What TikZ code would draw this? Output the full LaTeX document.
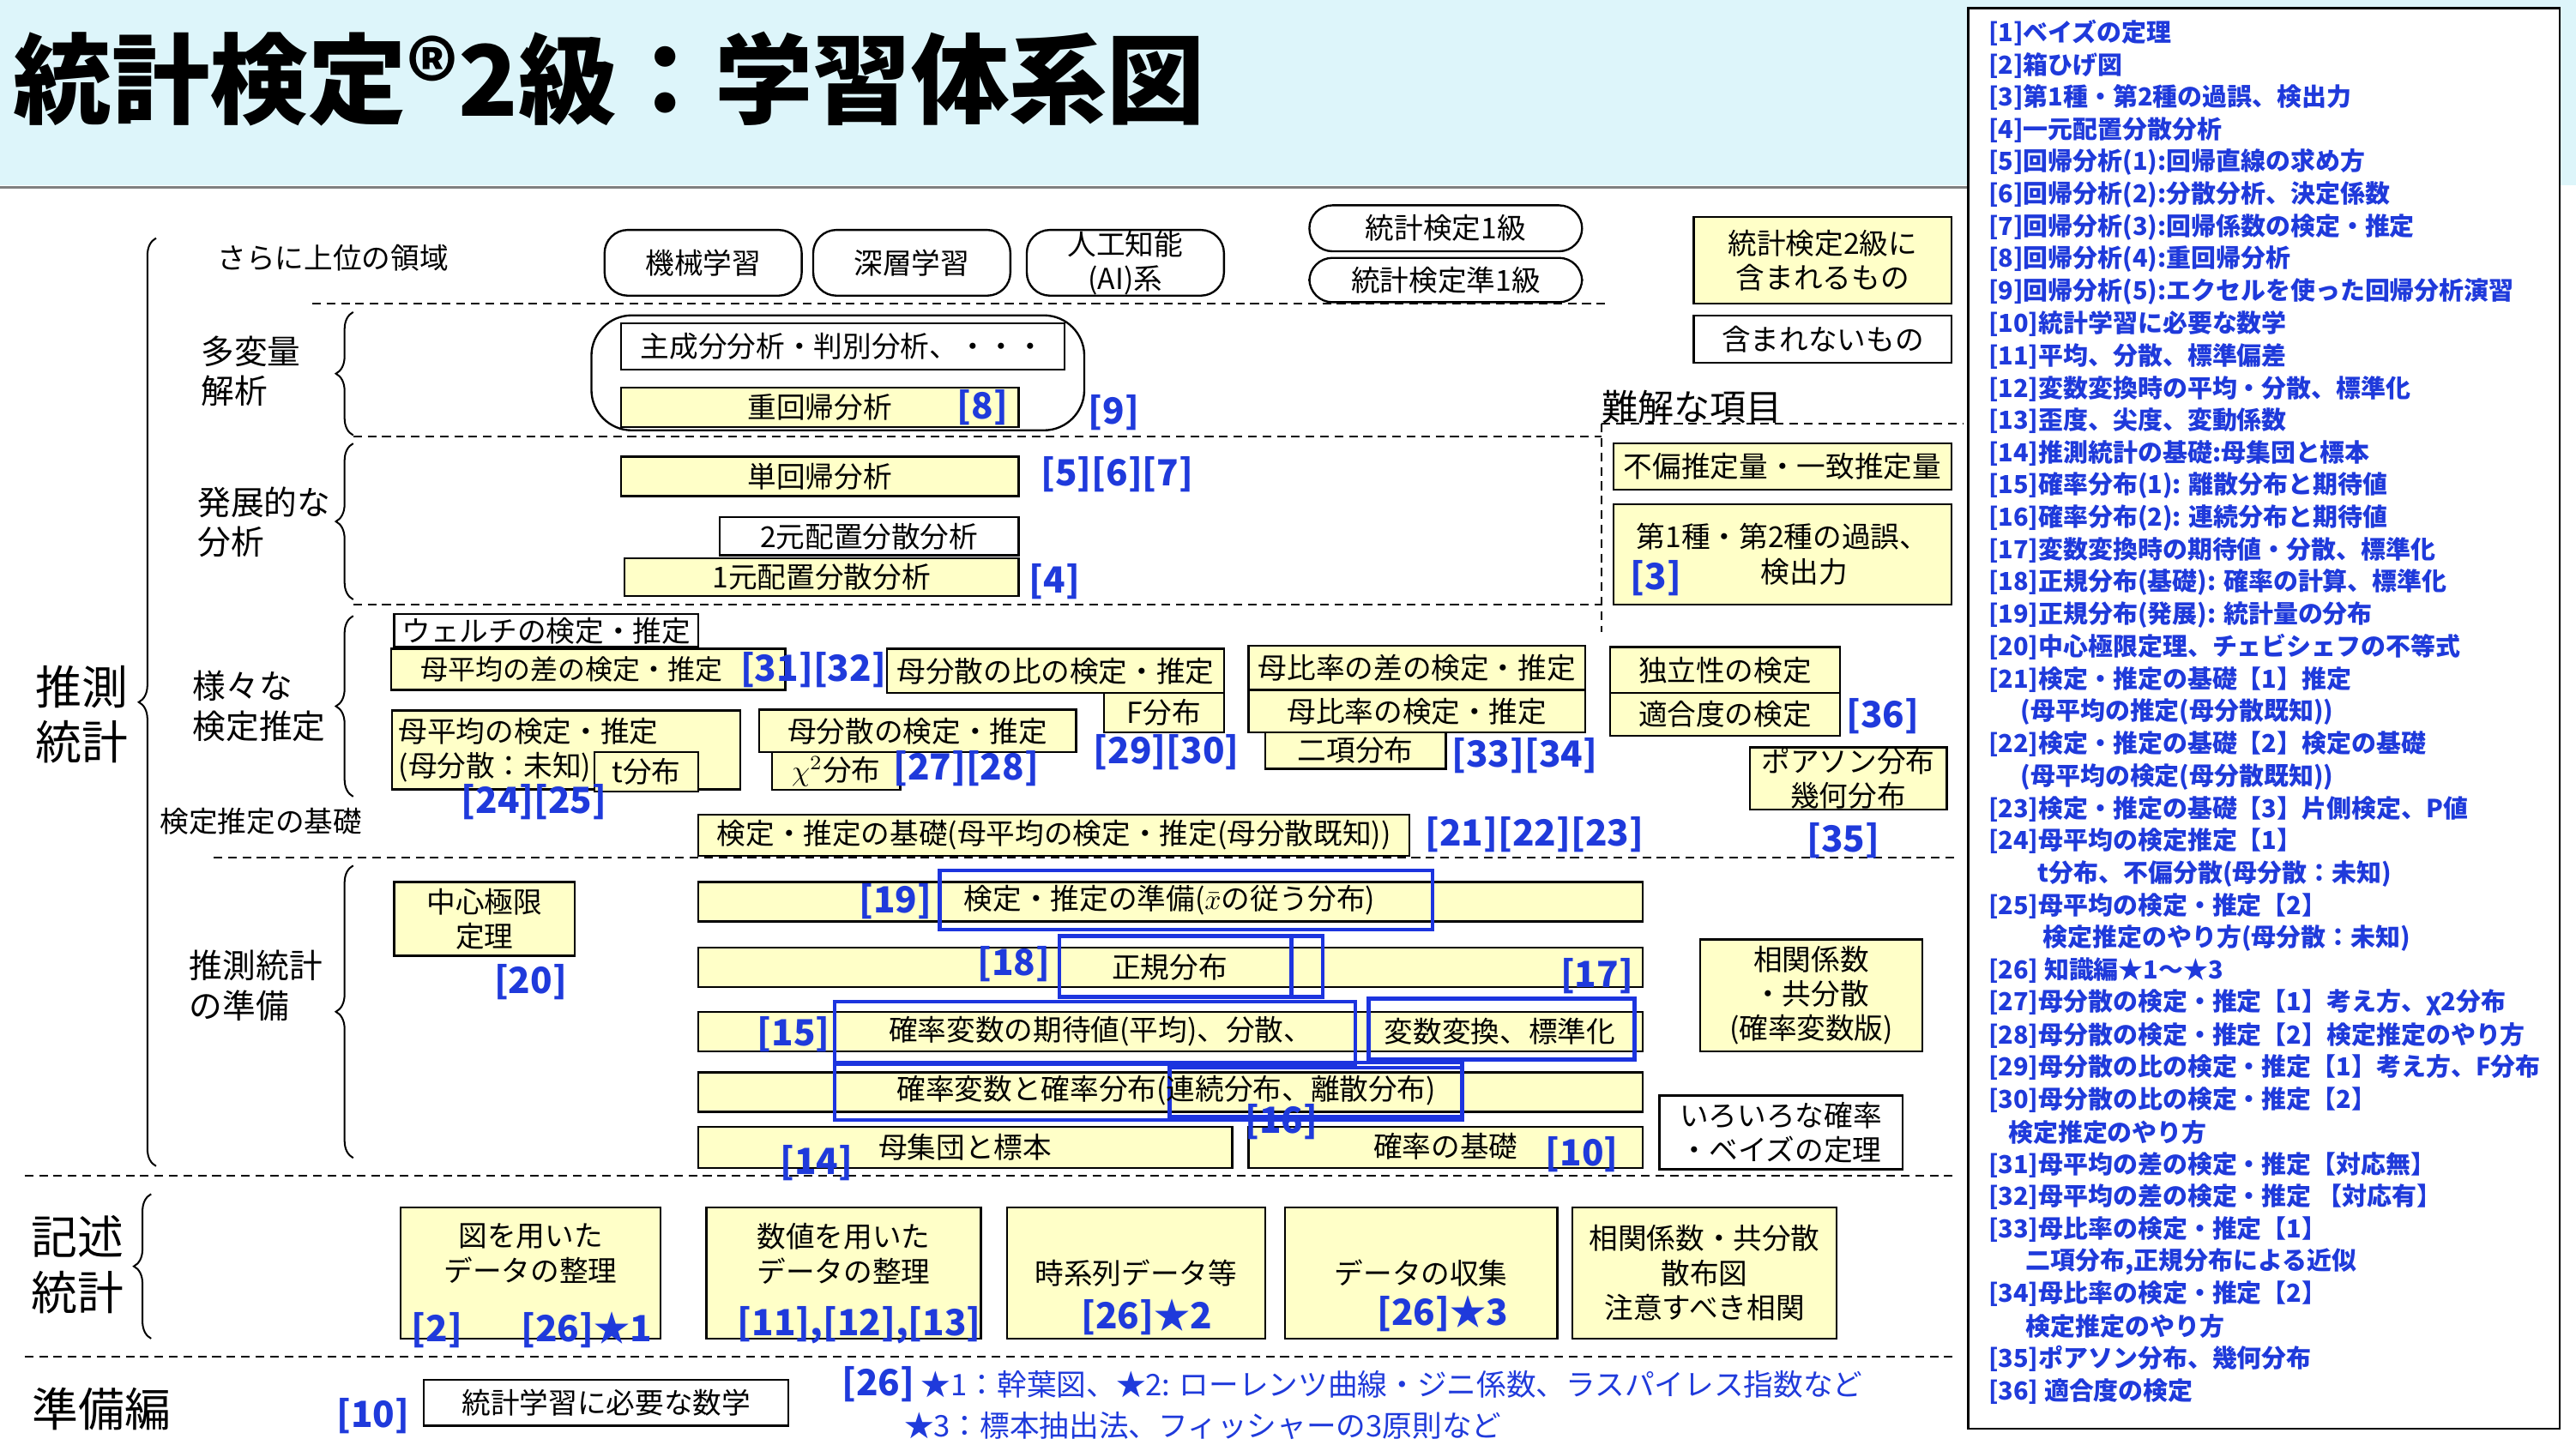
\documentclass[tikz,border=0pt]{standalone}
\usepackage{fontspec}
\setmainfont{Noto Sans CJK JP}
\usetikzlibrary{decorations.pathreplacing}
\definecolor{yel}{HTML}{FFFFC8}
\definecolor{ref}{HTML}{1F3ADB}
\definecolor{bnr}{HTML}{DDF5FA}
\newcommand\fs[1]{\fontsize{#1pt}{\dimexpr #1pt*6/5\relax}\selectfont}
\newcommand\bx[7]{\node[#1,minimum width={(#5-#3)*0.02cm},minimum height={(#6-#4)*0.02cm}] (#2) at ({(#3+#5)/2},{(#4+#6)/2}) {#7};}
\begin{document}
\begin{tikzpicture}[x=0.02cm,y=-0.02cm,
  base/.style={draw=black,line width=0.7pt,inner sep=0pt,align=center,font=\fs{10}},
  yb/.style={base,fill=yel},
  wb/.style={base,fill=white},
  rb/.style={base,fill=white,rounded corners=8pt},
  rf/.style={text=ref,font=\bfseries\fs{12.5},inner sep=0pt},
  lab/.style={font=\fs{11.5},align=left,inner sep=0pt,anchor=west},
  big/.style={font=\fs{16},align=center,inner sep=0pt},
  dl/.style={dashed,line width=0.6pt,dash pattern=on 3pt off 2pt},
  br/.style={decorate,decoration={brace,amplitude=6pt},line width=0.6pt},
  bb/.style={draw=ref!90!blue,line width=1.3pt}]
\useasboundingbox (0,0) rectangle (1568,883);
\fill[bnr] (0,0) rectangle (1568,113);
\draw[gray,line width=1pt] (0,114)--(1198,114);
\node[anchor=west,font=\bfseries\fs{34},inner sep=0pt] (title) at (8,48) {統計検定®2級：学習体系図};
% legend
\node[draw,line width=0.7pt,fill=white,minimum width={360*0.02cm},minimum height={865*0.02cm},inner sep=0] (leg) at (1378,437.5) {};
\foreach \t [count=\i from 0] in {
[1]ベイズの定理,[2]箱ひげ図,[3]第1種・第2種の過誤、検出力,[4]一元配置分散分析,
[5]回帰分析(1):回帰直線の求め方,[6]回帰分析(2):分散分析、決定係数,[7]回帰分析(3):回帰係数の検定・推定,
[8]回帰分析(4):重回帰分析,[9]回帰分析(5):エクセルを使った回帰分析演習,[10]統計学習に必要な数学,
[11]平均、分散、標準偏差,[12]変数変換時の平均・分散、標準化,[13]歪度、尖度、変動係数,
[14]推測統計の基礎:母集団と標本,[15]確率分布(1): 離散分布と期待値,[16]確率分布(2): 連続分布と期待値,
[17]変数変換時の期待値・分散、標準化,[18]正規分布(基礎): 確率の計算、標準化,[19]正規分布(発展): 統計量の分布,
[20]中心極限定理、チェビシェフの不等式,[21]検定・推定の基礎【1】推定,\hspace{1.3em}(母平均の推定(母分散既知)),
[22]検定・推定の基礎【2】検定の基礎,\hspace{1.3em}(母平均の検定(母分散既知)),[23]検定・推定の基礎【3】片側検定、P値,
[24]母平均の検定推定【1】,\hspace{2em}t分布、不偏分散(母分散：未知),[25]母平均の検定・推定【2】,
\hspace{2.2em}検定推定のやり方(母分散：未知),[26] 知識編★1～★3,[27]母分散の検定・推定【1】考え方、χ2分布,
[28]母分散の検定・推定【2】検定推定のやり方,[29]母分散の比の検定・推定【1】考え方、F分布,[30]母分散の比の検定・推定【2】,
\hspace{0.8em}検定推定のやり方,[31]母平均の差の検定・推定【対応無】,[32]母平均の差の検定・推定 【対応有】,
[33]母比率の検定・推定【1】,\hspace{1.5em}二項分布{,}正規分布による近似,[34]母比率の検定・推定【2】,
\hspace{1.5em}検定推定のやり方,[35]ポアソン分布、幾何分布,[36] 適合度の検定}
{\node[anchor=west,inner sep=0pt,text=ref,font=\bfseries\fs{8.6}] (l\i) at (1210,{20+\i*19.69}) {\t};}
% braces & section labels
\draw[br] (95,710)--(95,145);
\node[big] (suisoku) at (50,435) {推測\\統計};
\draw[br] (215,265)--(215,190);
\draw[br] (215,365)--(215,270);
\draw[br] (215,485)--(215,375);
\draw[br] (215,705)--(215,527);
\draw[br] (92,815)--(92,727);
\node[big] (kijutsu) at (47,770) {記述\\統計};
\node[big] (junbi) at (62,858) {準備編};
\node[lab] (sarani) at (132,157) {\fs{10}さらに上位の領域};
\node[lab] (tahen) at (122,226) {多変量\\解析};
\node[lab] (hatten) at (120,318) {発展的な\\分析};
\node[lab] (samazama) at (117,430) {様々な\\検定推定};
\node[lab,font=\fs{10}] (kiso) at (97,500) {検定推定の基礎};
\node[lab] (prep) at (115,600) {推測統計\\の準備};
% dashed lines
\draw[dl] (190,185)--(980,185);
\draw[dl] (215,266)--(975,266);
\draw[dl] (215,368)--(975,368);
\draw[dl] (130,522)--(1190,522);
\draw[dl] (15,716)--(1190,716);
\draw[dl] (15,826)--(1190,826);
\draw[dl] (975,258)--(975,385);
\draw[dl] (975,258)--(1195,258);
% upper
\bx{rb}{ml}{368}{140}{488}{180}{機械学習}
\bx{rb}{dl}{495}{140}{615}{180}{深層学習}
\bx{rb}{ai}{625}{140}{745}{180}{人工知能\\(AI)系}
\bx{rb}{q1}{797}{125}{963}{153}{統計検定1級}
\bx{rb}{qj}{797}{157}{963}{184}{統計検定準1級}
\bx{yb}{inc}{1031}{132}{1188}{185}{統計検定2級に\\含まれるもの}
\bx{wb}{exc}{1031}{192}{1188}{221}{含まれないもの}
\node[inner sep=0,font=\fs{12.5}] (nankai) at (1030,248) {難解な項目};
% multivariate
\draw[line width=0.7pt,rounded corners=14pt] (360,192) rectangle (660,262);
\bx{wb}{pca}{378}{197}{648}{225}{主成分分析・判別分析、・・・}
\bx{yb}{mra}{378}{236}{620}{260}{重回帰分析}
\node[rf] (r8) at (598,248) {[8]};
\node[rf] (r9) at (678,251) {[9]};
\bx{yb}{sra}{378}{278}{620}{302}{単回帰分析}
\node[rf] (r567) at (680,289) {[5][6][7]};
\bx{wb}{anova2}{438}{315}{620}{338}{2元配置分散分析}
\bx{yb}{anova1}{380}{340}{620}{363}{1元配置分散分析}
\node[rf] (r4) at (642,354) {[4]};
\bx{yb}{fuhen}{982}{270}{1188}{298}{不偏推定量・一致推定量}
\bx{yb}{kago}{982}{307}{1188}{368}{第1種・第2種の過誤、\\\hspace{1.5em}検出力}
\node[rf] (r3) at (1008,352) {[3]};
% tests
\bx{wb}{welch}{240}{374}{425}{394}{ウェルチの検定・推定}
\bx{yb}{diff}{238}{395}{478}{420}{\fs{9.5}母平均の差の検定・推定\hspace{1.2em}}
\node[rf] (r3132) at (495,408) {[31][32]};
\bx{yb}{varr}{540}{395}{745}{422}{母分散の比の検定・推定}
\bx{yb}{fdist}{672}{422}{745}{446}{F分布}
\node[rf] (r2930) at (710,458) {[29][30]};
\bx{yb}{pdiff}{760}{393}{965}{420}{母比率の差の検定・推定}
\bx{yb}{prop}{760}{420}{965}{446}{母比率の検定・推定}
\bx{yb}{binom}{770}{446}{880}{468}{二項分布}
\node[rf] (r3334) at (928,460) {[33][34]};
\bx{yb}{indep}{980}{394}{1120}{422}{独立性の検定}
\bx{yb}{fit}{980}{422}{1120}{448}{適合度の検定}
\node[rf] (r36) at (1146,436) {[36]};
\bx{yb}{pois}{1065}{455}{1185}{493}{ポアソン分布\\幾何分布}
\node[rf] (r35) at (1122,512) {[35]};
\node[yb,anchor=north west,minimum width={(450-238)*0.02cm},minimum height={(480-432)*0.02cm},align=left,text width={(446-242)*0.02cm}] (mean) at (238,432) {母平均の検定・推定\\(母分散：未知)};
\bx{yb}{tdist}{362}{458}{425}{482}{t分布}
\node[rf] (r2425) at (325,488) {[24][25]};
\bx{yb}{var}{462}{432}{655}{458}{母分散の検定・推定}
\bx{yb}{chi}{470}{458}{548}{481}{$\chi^2$分布}
\node[rf] (r2728) at (588,468) {[27][28]};
\bx{yb}{basic}{425}{496}{858}{521}{検定・推定の基礎(母平均の検定・推定(母分散既知))}
\node[rf] (r212223) at (934,508) {[21][22][23]};
% preparation
\bx{yb}{clt}{240}{537}{350}{582}{中心極限\\定理}
\node[rf] (r20) at (323,598) {[20]};
\bx{yb}{b1}{425}{537}{1000}{561}{}
\bx{yb}{b2}{425}{577}{1000}{601}{}
\bx{yb}{b3}{425}{616}{1000}{640}{}
\bx{yb}{b4}{425}{653}{1000}{677}{}
\bx{yb}{b5}{425}{686}{750}{711}{母集団と標本}
\bx{yb}{b6}{760}{686}{1000}{711}{}
\node[inner sep=0,font=\fs{10}] (kakuritsu) at (880,698) {確率の基礎};
\draw[bb] (572,530) rectangle (872,566);
\node[inner sep=0,font=\fs{10}] (t19) at (712,548) {検定・推定の準備($\bar{x}$の従う分布)};
\node[rf] (r19) at (545,549) {[19]};
\draw[bb] (645,570) rectangle (805,607);
\draw[bb] (786,570) rectangle (805,607);
\node[inner sep=0,font=\fs{10}] (t18) at (712,589) {正規分布};
\node[rf] (r18) at (617,587) {[18]};
\node[rf] (r17) at (972,594) {[17]};
\draw[bb] (508,610) rectangle (825,648);
\draw[bb] (833,608) rectangle (995,645);
\node[inner sep=0,font=\fs{10}] (t15) at (670,628) {確率変数の期待値(平均)、分散、};
\node[inner sep=0,font=\fs{10}] (t17) at (913,628) {変数変換、標準化};
\node[rf] (r15) at (483,630) {[15]};
\draw[bb] (508,647) rectangle (890,682);
\draw[bb] (712,650) rectangle (890,680);
\node[inner sep=0,font=\fs{10}] (t16) at (710,664) {確率変数と確率分布(連続分布、離散分布)};
\node[rf] (r16) at (780,683) {[16]};
\node[rf] (r14) at (497,708) {[14]};
\node[rf] (r10a) at (963,703) {[10]};
\bx{yb}{corr}{1035}{572}{1170}{640}{相関係数\\・共分散\\(確率変数版)}
\bx{wb}{bayes}{1010}{667}{1158}{712}{いろいろな確率\\・ベイズの定理}
% descriptive
\bx{yb}{d1}{244}{735}{402}{815}{図を用いた\\データの整理\\[2pt]\mbox{}}
\bx{yb}{d2}{430}{735}{597}{815}{数値を用いた\\データの整理\\[2pt]\mbox{}}
\bx{yb}{d3}{613}{735}{770}{815}{時系列データ等}
\bx{yb}{d4}{782}{735}{948}{815}{データの収集}
\bx{yb}{d5}{957}{735}{1118}{815}{相関係数・共分散\\散布図\\注意すべき相関}
\node[rf] (r2) at (266,810) {[2]};
\node[rf] (r26a) at (357,810) {[26]★1};
\node[rf] (r111213) at (523,807) {[11],[12],[13]};
\node[rf] (r26b) at (698,802) {[26]★2};
\node[rf] (r26c) at (878,800) {[26]★3};
% prep
\node[rf] (r10b) at (227,862) {[10]};
\bx{wb}{math}{258}{840}{480}{868}{統計学習に必要な数学};
\node[anchor=west,inner sep=0,text=ref,font=\fs{10.3}] (n1) at (512,843) {\textbf{\fs{12.5}[26]} ★1：幹葉図、★2: ローレンツ曲線・ジニ係数、ラスパイレス指数など};
\node[anchor=west,inner sep=0,text=ref,font=\fs{10.3}] (n2) at (550,868) {★3：標本抽出法、フィッシャーの3原則など};
\end{tikzpicture}
\end{document}
